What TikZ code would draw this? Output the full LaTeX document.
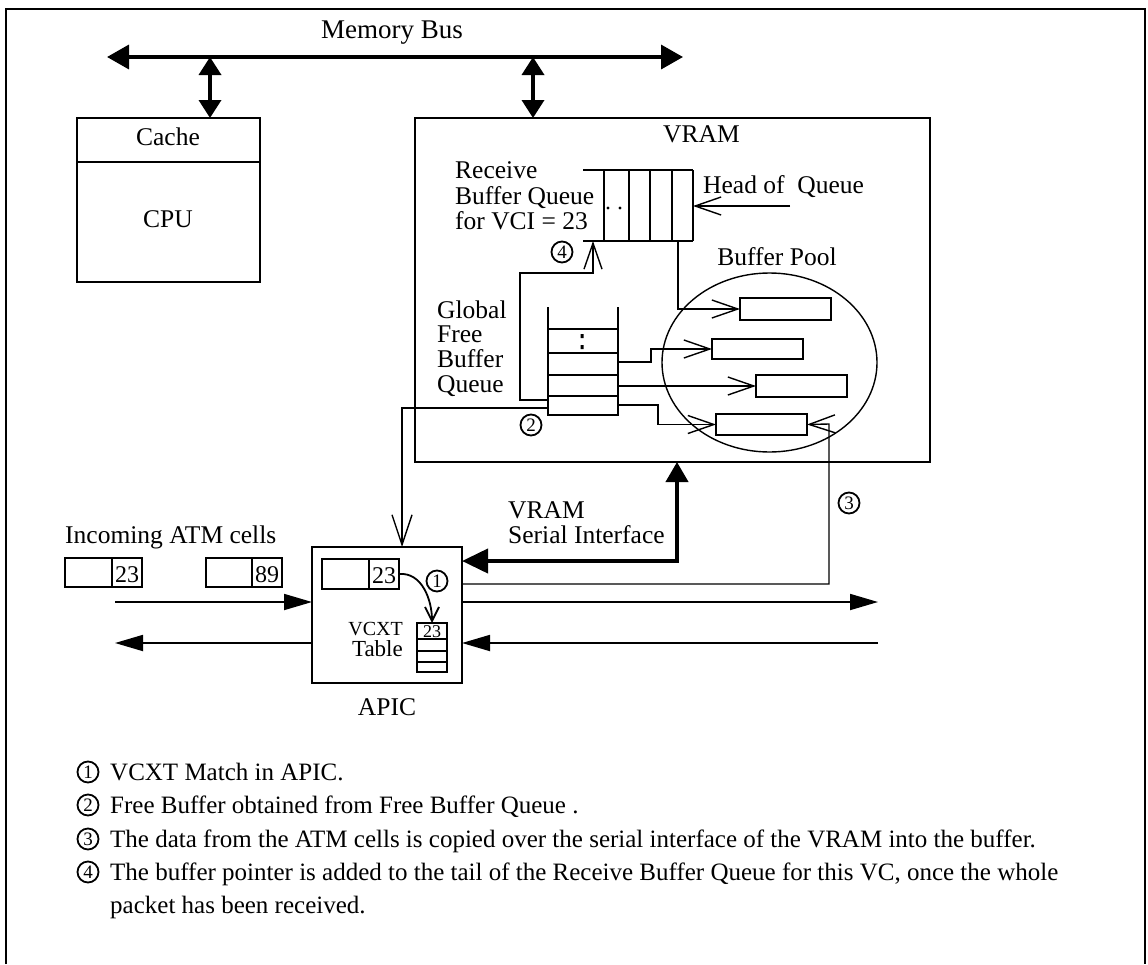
\documentclass[tikz,border=0pt]{standalone}
\usepackage{fontspec}
\setmainfont{Liberation Serif}
\usetikzlibrary{arrows.meta,calc,shapes.geometric}
\begin{document}
\begin{tikzpicture}[x=1pt,y=-1pt,
  lbl/.style={font=\fontsize{25.5}{25.5}\selectfont, inner sep=0pt},
  leg/.style={font=\fontsize{25}{25}\selectfont, inner sep=0pt},
  smalllbl/.style={font=\fontsize{20}{20}\selectfont, inner sep=0pt},
  boxn/.style={draw, line width=2.4pt, inner sep=0pt, outer sep=0pt},
  smallbox/.style={draw, line width=2pt, inner sep=0pt, outer sep=0pt},
  thinline/.style={line width=1.4pt},
  openarr/.style={thinline, -{Straight Barb[length=26pt,width=18pt]}},
  busarr/.style={line width=3.6pt, {Triangle[length=22pt,width=24pt]}-{Triangle[length=22pt,width=24pt]}},
  tapar/.style={line width=3.6pt, {Triangle[length=18pt,width=22pt]}-{Triangle[length=18pt,width=22pt]}},
  fatarr/.style={line width=1.8pt, -{Triangle[length=28pt,width=16pt]}},
  num/.style={circle, draw, line width=1.8pt, inner sep=0pt, minimum size=21pt, font=\fontsize{19}{19}\selectfont}
]
\useasboundingbox (0,0) rectangle (1148,964);
% outer frame
\draw[line width=1.8pt] (6,964) -- (6,9) -- (1145,9) -- (1145,964);

% memory bus
\node[lbl, font=\fontsize{27}{27}\selectfont, anchor=base] (membus) at (392,38) {Memory Bus};
\coordinate (busL) at (107,57);
\coordinate (busR) at (683,57);
\draw[busarr] (busL) -- (busR);

% CPU
\node[boxn, minimum width=183pt, minimum height=164pt, anchor=north west] (cpu) at (77,118) {};
\draw[line width=2.4pt] (77,162) -- (260,162);
\node[lbl, anchor=base] (cachet) at (168,145) {Cache};
\node[lbl, anchor=base] (cput) at (168,227) {CPU};
\coordinate (cpuTap) at (210,57);
\draw[tapar] (cpuTap) -- (cpu.north -| cpuTap);

% VRAM
\node[boxn, minimum width=515pt, minimum height=344pt, anchor=north west] (vram) at (415,118) {};
\node[lbl, anchor=base west] (vramt) at (663,142) {VRAM};
\coordinate (vramTap) at (533,57);
\draw[tapar] (vramTap) -- (vram.north -| vramTap);

% receive buffer queue
\node[lbl, anchor=base west] (rq1) at (455,178) {Receive};
\node[lbl, anchor=base west] (rq2) at (455,204) {Buffer Queue};
\node[lbl, anchor=base west] (rq3) at (455,229) {for VCI = 23};
\draw[line width=2.2pt] (583,170) -- (693,170);
\draw[line width=2.2pt] (583,241) -- (693,241);
\foreach \xx in {604,629,650,672,693} \draw[line width=2.2pt] (\xx,170) -- (\xx,241);
\fill (608,208) circle (1.7pt) (620,208) circle (1.7pt);
\node[lbl, anchor=base west] (hoq) at (703,193) {Head of~~Queue};
\coordinate (hoqS) at (790,206);
\coordinate (hoqE) at (693,206);
\draw[openarr] (hoqS) -- (hoqE);

% buffer pool
\node[lbl, anchor=base] (bpt) at (777,265) {Buffer Pool};
\draw[thinline] (769.5,362.5) ellipse [x radius=107.5, y radius=89.5];
\node[smallbox, minimum width=91pt, minimum height=22pt, anchor=north west] (buf1) at (740,298) {};
\node[smallbox, minimum width=91pt, minimum height=20pt, anchor=north west] (buf2) at (712,339) {};
\node[smallbox, minimum width=91pt, minimum height=22pt, anchor=north west] (buf3) at (756,375) {};
\node[smallbox, minimum width=91pt, minimum height=21pt, anchor=north west] (buf4) at (716,414) {};

% global free buffer queue
\node[lbl, anchor=base west] (gq1) at (437,318) {Global};
\node[lbl, anchor=base west] (gq2) at (437,342) {Free};
\node[lbl, anchor=base west] (gq3) at (437,367) {Buffer};
\node[lbl, anchor=base west] (gq4) at (437,392) {Queue};
\draw[line width=2.2pt] (548,307) -- (548,415) -- (618,415) -- (618,307);
\draw[line width=1.4pt] (548,329) -- (618,329);
\foreach \yy in {353,375,396} \draw[line width=2.2pt] (548,\yy) -- (618,\yy);
\fill (580.5,334) rectangle (583.5,338) (580.5,345) rectangle (583.5,349);

% pointers to buffers
\coordinate (q1out) at (678,241);
\draw[openarr] (q1out) |- (buf1.west);
\coordinate (f2out) at (618,362);
\draw[openarr] (f2out) -- (651,362) |- (buf2.west);
\coordinate (f3out) at (618,386);
\draw[openarr] (f3out) -- (buf3.west);
\coordinate (f4out) at (618,405);
\draw[openarr] (f4out) -- (658,405) |- (buf4.west);

% step 4 path
\coordinate (f4in) at (548,400);
\coordinate (rqTail) at (593,241);
\draw[openarr] (f4in) -- (520,400) -- (520,273) -| (rqTail);
\node[num] (n4) at (562,252) {4};

% APIC
\node[boxn, minimum width=150pt, minimum height=136pt, anchor=north west] (apic) at (312,547) {};
\node[lbl, anchor=base] (apict) at (387,715) {APIC};

% step 2 path
\coordinate (f4left) at (548,408);
\coordinate (apicTop) at (402,547);
\draw[openarr, -{Straight Barb[length=30pt,width=20pt]}] (f4left) -- (402,408) -- (apicTop);
\node[num] (n2) at (531,425) {2};

% serial interface
\coordinate (serA) at (462,561);
\coordinate (serV) at (677,462);
\draw[line width=4pt, {Triangle[length=26pt,width=24pt]}-{Triangle[length=20pt,width=22pt]}] (serA) -| (serV);
\node[lbl, anchor=base west] (ser1) at (508,518) {VRAM};
\node[lbl, anchor=base west] (ser2) at (508,543) {Serial Interface};

% step 3 path
\coordinate (apicR3) at (462,584);
\coordinate (c3) at (829,424);
\draw[openarr] (apicR3) -| (c3) -- (buf4.east);
\node[num] (n3) at (849,503) {3};

% APIC contents
\node[smallbox, minimum width=77pt, minimum height=30pt, anchor=north west] (apcell) at (322,559) {};
\draw[line width=2pt] (369,559) -- (369,589);
\node[lbl, font=\fontsize{24}{24}\selectfont, anchor=base] (ap23) at (384,583) {23};
\node[smallbox, minimum width=30pt, minimum height=49pt, anchor=north west] (vcxt) at (417,623) {};
\foreach \yy in {639,651,662} \draw[line width=2pt] (417,\yy) -- (447,\yy);
\node[smalllbl, font=\fontsize{18}{18}\selectfont, anchor=base] (vc23) at (432,637) {23};
\node[smalllbl, anchor=base east] (vcxtt) at (403,635) {VCXT};
\node[lbl, font=\fontsize{23}{23}\selectfont, anchor=base east] (tablet) at (403,656) {Table};
\draw[line width=1.8pt, -{Straight Barb[length=14pt,width=14pt]}] (apcell.east) to[out=5,in=90] (vcxt.north);
\node[num] (n1) at (437,581) {1};

% incoming cells
\node[lbl, anchor=base west] (inc) at (65,543) {Incoming ATM cells};
\node[smallbox, minimum width=77pt, minimum height=29pt, anchor=north west] (cell1) at (65,558) {};
\draw[line width=2pt] (112,558) -- (112,587);
\node[lbl, font=\fontsize{24}{24}\selectfont, anchor=base] (c1t) at (127,582) {23};
\node[smallbox, minimum width=76pt, minimum height=29pt, anchor=north west] (cell2) at (206,558) {};
\draw[line width=2pt] (252,558) -- (252,587);
\node[lbl, font=\fontsize{24}{24}\selectfont, anchor=base] (c2t) at (267,582) {89};

% link arrows
\coordinate (inL) at (115,602);
\draw[fatarr] (inL) -- (apic.west |- inL);
\coordinate (outL) at (115,643);
\draw[fatarr] (apic.west |- outL) -- (outL);
\coordinate (outR) at (878,602);
\draw[fatarr] (apic.east |- outR) -- (outR);
\coordinate (inR) at (878,643);
\draw[fatarr] (inR) -- (apic.east |- inR);

% legend
\node[num] (l1) at (88,772) {1};
\node[leg, anchor=base west] (t1) at (110,780) {VCXT Match in APIC.};
\node[num] (l2) at (88,805) {2};
\node[leg, anchor=base west] (t2) at (110,813) {Free Buffer obtained from Free Buffer Queue .};
\node[num] (l3) at (88,839) {3};
\node[leg, anchor=base west] (t3) at (110,847) {The data from the ATM cells is copied over the serial interface of the VRAM into the buffer.};
\node[num] (l4) at (88,872) {4};
\node[leg, anchor=base west] (t4) at (110,880) {The buffer pointer is added to the tail of the Receive Buffer Queue for this VC, once the whole};
\node[leg, anchor=base west] (t5) at (110,913) {packet has been received.};
\end{tikzpicture}
\end{document}
